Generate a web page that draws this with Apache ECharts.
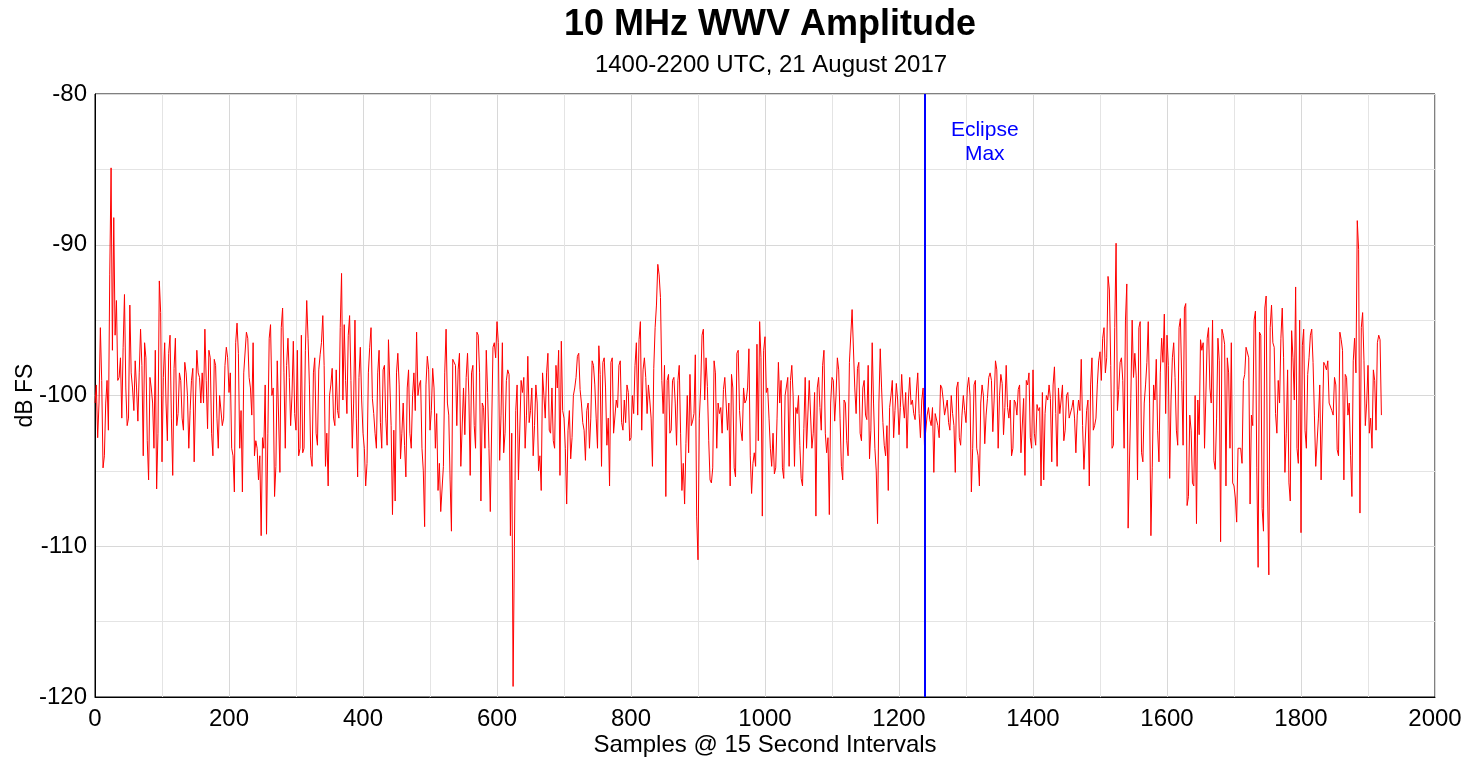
<!DOCTYPE html>
<html>
<head>
<meta charset="utf-8">
<script src="https://cdn.jsdelivr.net/npm/echarts@6/dist/echarts.min.js"></script>
<style>
html,body{margin:0;padding:0;background:#fff;}
#chart{width:1470px;height:759px;}
</style>
</head>
<body>
<div id="chart"></div>
<script>
// Samples between consecutive values of an amp array; mid arrays sit halfway between
const STEP = 4;
const MID_OFFSET = 2;
// Amplitude (dB FS), in 160-sample segments
const amp0000 = [-100.5,-102.8,-95.5,-104.8,-100.5,-102.3,-84.9,-88.2,-93.7,-98.8,-101.5,-93.3,-102,-94,-99.5,-97.7,-101.7,-95.6,-104,-97.5,-105.6,-99.5,-103.5,-106.2,-92.4,-104.4,-96.5,-103,-96,-105.3,-96.2,-101.2,-99,-102.3,-98.5,-103.5,-99,-104.4,-97,-98.8];
const mid0000 = [-99.3,-100.5,-99,-104,-99,-92,-97,-96,-99,-97.5,-96.8,-99.5,-101.5,-98.5,-101,-99.5,-98.5,-98,-96.5,-103,-98.8,-100.5,-97,-102.5,-94.5,-98.8,-100.5,-97.2,-101.5,-98.2,-102,-98.5,-101.5,-97.8,-100,-101,-98.2,-100.3,-98.5,-100.5];
const amp0160 = [-98.5,-95.6,-102.2,-97.5,-104,-98,-103.5,-100,-101.5,-96.8,-99.8,-103.5,-106.4,-95.2,-103.5,-106.4,-98.5,-96.2,-99.5,-96.5,-103,-105.6,-109.3,-103.5,-109.2,-96.2,-100,-106.7,-97.7,-105.1,-94.2,-103.5,-96.2,-102,-96.4,-102.3,-104,-96,-103.5,-93.7];
const mid0160 = [-100.5,-99,-97,-102.5,-97.6,-101.5,-100,-102,-98,-97.5,-98.5,-104,-96.5,-97.2,-101,-98.5,-95.8,-98.8,-101.3,-104,-103.5,-104,-102.8,-99.3,-102.5,-95.3,-99.5,-104.7,-97.7,-95.5,-98.5,-98,-98.8,-100,-101.2,-97,-103.5,-103.8,-97,-96.2];
const amp0320 = [-99.3,-104.7,-97.5,-103.3,-97.3,-94.7,-104.7,-106,-99.3,-101.5,-98.3,-101.5,-91.9,-95.3,-101.2,-94.7,-103.5,-95,-105.4,-96.8,-102.5,-106,-98.5,-95.5,-101.2,-103.5,-97,-103.5,-98,-103.3,-96.2,-107.9,-107,-97.2,-104.2,-100.5,-105.4,-98.3,-103.5,-98.5];
const mid0320 = [-104,-98.5,-102.5,-98.3,-96.5,-98,-102.5,-100,-98.2,-102,-101,-95.5,-100.3,-99,-96,-99,-100.5,-101.5,-98.8,-100.3,-103.5,-104.5,-96.8,-100.2,-102.5,-98.5,-101.8,-98.3,-101.5,-96.3,-102,-102.3,-98.5,-99.3,-102.5,-103.3,-99.5,-102.5,-100,-101];
const amp0480 = [-95.8,-99.3,-103.5,-108.7,-97.4,-102.3,-98.2,-103.5,-106.3,-107.7,-104.7,-95.6,-101.3,-109,-97.5,-102,-97.2,-104.7,-102.6,-97.2,-105.3,-98,-103.5,-96,-107,-100.8,-97,-103.5,-107.7,-96.5,-95.1,-104.3,-96.5,-102.5,-98.3,-109.3,-119.3,-101,-105.6,-99];
const mid0480 = [-100,-99,-105,-99.3,-98.3,-101,-99.5,-101.2,-104.5,-107.7,-98.5,-100.5,-105.6,-97.6,-98,-98.3,-104.7,-99.5,-98.8,-100,-98.5,-102,-95.8,-98.5,-100.5,-103.5,-99.8,-107.7,-96.8,-97.5,-96.5,-101.3,-103.8,-99,-98.6,-102.5,-110,-99.3,-105.6,-99.8];
const amp0640 = [-98.8,-101.3,-101.8,-99.5,-102,-100.5,-104,-98.5,-101.5,-97.2,-102.5,-103,-98,-97,-96.4,-101.5,-107.2,-101,-102.8,-99.5,-97.4,-99.6,-101.8,-104.3,-100.5,-101.5,-98,-101.5,-96.7,-104.7,-97.5,-103.3,-106,-97.5,-102.5,-100.8,-97.7,-102.3,-101.8,-99.8];
const mid0640 = [-103.5,-97.4,-101,-104,-99.3,-105,-106.3,-100,-98.5,-102.3,-99.5,-103.5,-99.5,-105.3,-101,-103.5,-102.3,-104.2,-100,-98.8,-97.2,-100.5,-102.3,-101,-103.5,-97.7,-99.3,-103.5,-98.6,-97.8,-99.5,-101.5,-97.8,-102.5,-100.3,-98,-101.8,-100.3,-99.3,-103];
const amp0800 = [-102.8,-101.2,-96.5,-96.3,-102.3,-97.5,-101.2,-100.3,-104.7,-95.5,-91.3,-93.5,-101.2,-106.7,-98.6,-102.3,-98.8,-103.3,-98,-106.3,-107.2,-100,-98.6,-101.7,-97.3,-110.9,-99.5,-95.6,-97.5,-103,-105.8,-97.7,-103.5,-101.2,-102.5,-98.8,-102.3,-106,-99.5,-105.4];
const mid0800 = [-100,-98,-101.3,-95.1,-98.3,-98.8,-99.3,-101.5,-98.2,-94,-92,-99,-98,-99,-102.5,-99,-100.5,-99,-102.5,-104.5,-103.2,-103.8,-102,-101.2,-108,-101.5,-96,-100.3,-99.4,-105.6,-104.8,-98.5,-100.5,-100.8,-99.6,-100.5,-100.5,-98.6,-104.8,-97.2];
const amp0960 = [-97,-102.3,-99.5,-100.3,-96.9,-106.5,-103.8,-96.6,-95.1,-108,-96.1,-99.5,-103.5,-102.5,-104.8,-97.8,-99,-105.5,-100,-104.7,-98,-104.7,-101.2,-103.3,-106,-98.8,-103.5,-99,-102.5,-108,-98.8,-102.3,-97,-103.8,-107.9,-98.8,-101.7,-97.5,-101.5,-105.6];
const mid0960 = [-101,-103,-100.5,-99.5,-104,-104.5,-104.7,-103,-97.5,-97,-99.8,-101.5,-104.7,-105.2,-101.5,-100.5,-104.8,-100,-98.8,-99,-100,-100.8,-100,-105.5,-102.2,-103.5,-99,-103.5,-99.8,-99.5,-100.8,-98,-102.5,-102.8,-100.5,-99,-100,-98.3,-104.7,-100.3];
const amp1120 = [-100.5,-104,-97.7,-94.2,-101.2,-97.8,-103,-99,-101.6,-104.2,-96.5,-103.5,-108.5,-96.9,-101.8,-104,-106.3,-100,-102.8,-99.2,-102.6,-98.6,-101.5,-103.5,-98.8,-100.3,-101.6,-98.5,-102.8,-99.5,-103.3,-100.8,-102,-105.1,-101.3,-102.8,-99.5,-101.3,-100.3,-102.3];
const mid1120 = [-103,-97.8,-94.3,-99.5,-98.2,-102.5,-99.5,-101.3,-98,-102.3,-100.5,-105,-100.5,-99.5,-103.3,-102,-100.8,-99,-101,-100.3,-100.8,-100.5,-99.8,-100.3,-100.6,-101.2,-99.7,-101.2,-100.3,-103.3,-101.3,-101.6,-100.8,-101.2,-102,-99.3,-100.3,-101.3,-101.8,-100];
const amp1280 = [-101.2,-105.1,-99.1,-103.3,-100,-101.8,-98.8,-106.4,-99.3,-103.5,-106,-99.3,-103.2,-100.2,-98.5,-102.4,-97.7,-103.5,-98.6,-102.6,-98,-101.5,-104,-100.3,-101.3,-99.3,-103.8,-105.3,-99.3,-102.8,-98.3,-103.3,-101,-106,-105.6,-100,-99.3,-104.4,-98.1,-104.7];
const mid1280 = [-102,-99.5,-102.8,-101.3,-101,-99.5,-100,-103.5,-99,-104,-100.5,-100,-101.3,-98.8,-99,-100.3,-98.3,-100,-99.2,-100.8,-100.8,-100.3,-103.5,-100.5,-99.6,-103.8,-100.2,-99,-98.5,-103.5,-102.5,-100.6,-100.8,-99.8,-101.2,-100.3,-100.2,-99.3,-101.2,-99.5];
const amp1440 = [-101.2,-99.3,-102.3,-99.8,-101.5,-100.3,-103.8,-100.3,-97.6,-104.9,-101,-106,-97.5,-102,-99.3,-97.1,-96.2,-98.5,-92.1,-98,-103.3,-89.9,-99.6,-97.5,-103.5,-92.6,-108.8,-95,-97.2,-105.6,-95.1,-104.4,-99.3,-95.1,-109.3,-99.3,-97.6,-104.4,-96.2,-94.6];
const mid1440 = [-100.3,-103,-100,-101.5,-100.8,-101.5,-101.3,-101,-102,-104.9,-100.3,-99.3,-102.3,-101.5,-97.7,-99,-95.5,-97.5,-93,-103.5,-95.5,-101,-97.8,-99,-95,-108.8,-100.2,-98.8,-98.7,-95.5,-103.8,-100.5,-97.8,-100.5,-104.8,-100.3,-102.3,-98.5,-97.8,-101.2];
const amp1600 = [-96,-105.5,-97.5,-98.8,-103.3,-94.9,-103.3,-93.9,-106.7,-102.3,-106,-108.5,-102.6,-97,-103.5,-96.2,-99.5,-95,-104.9,-96.2,-109.7,-96,-106,-98.5,-96.5,-106,-108.4,-103.5,-104.5,-98.6,-96.7,-107.2,-102,-94.4,-111.4,-96,-109,-93.4,-111.9,-94];
const mid1600 = [-98,-100.3,-96.5,-102.3,-95.5,-99,-94.2,-107.3,-101.3,-105.8,-100,-100.3,-96.3,-96.5,-100,-95.5,-100.5,-104.3,-101.5,-97.7,-95.6,-96.6,-97.5,-103.5,-105.8,-106.8,-103.5,-103.5,-99,-96.8,-97.5,-101.3,-95,-104.8,-95.8,-107.5,-94.2,-106,-95.5,-96.5];
const amp1760 = [-96.8,-102.5,-100.5,-94.2,-105.1,-98.3,-107,-97.5,-92.8,-104.5,-109.1,-95.6,-103.5,-97.5,-95.6,-101.3,-104.7,-99.3,-105.6,-98,-97.7,-100.5,-101.3,-99.3,-104,-96.3,-105.6,-98.8,-100.5,-106.7,-96.2,-88.4,-107.8,-94.5,-102,-98,-101.5,-98.3,-102.3,-96];
const mid1760 = [-101.2,-99,-96.2,-97.5,-102.5,-105.8,-95.7,-100.3,-103.5,-95,-96.7,-102.3,-98.6,-96,-97.8,-104.7,-101.5,-105.6,-97.8,-98.3,-100.5,-101,-98.8,-103.6,-95.8,-97,-98.6,-101.3,-104,-97.7,-98.5,-90.3,-95.5,-97.7,-100.5,-102.5,-103.5,-99,-96.5,-96.3];
const ampTail = [-101.3];

const eclipseSample = 1239;
const eclipseLabel = ['Eclipse', 'Max'];
const eclipseLabelAt = [1328, -83.2];

const xTicks = {min: 0, max: 2000, interval: 200};
const yTicks = {min: -120, max: -80, interval: 10};

const amp = [].concat(amp0000, amp0160, amp0320, amp0480, amp0640, amp0800,
                      amp0960, amp1120, amp1280, amp1440, amp1600, amp1760);
const mid = [].concat(mid0000, mid0160, mid0320, mid0480, mid0640, mid0800,
                      mid0960, mid1120, mid1280, mid1440, mid1600, mid1760);
const seriesData = [];
amp.forEach((v, i) => {
  seriesData.push([i * STEP, v]);
  seriesData.push([i * STEP + MID_OFFSET, mid[i]]);
});
ampTail.forEach((v, k) => seriesData.push([(amp.length + k) * STEP, v]));

const FONT = 'Liberation Sans, Arial, sans-serif';
const chart = echarts.init(document.getElementById('chart'), null, {renderer: 'canvas'});
chart.setOption({
  animation: false,
  backgroundColor: '#fff',
  textStyle: {fontFamily: FONT},
  title: [
    {text: '10 MHz WWV Amplitude', left: 765, textAlign: 'center', top: 2,
     textStyle: {fontSize: 36, fontWeight: 'bold', color: '#000', fontFamily: FONT}},
    {text: '1400-2200 UTC, 21 August 2017', left: 766, textAlign: 'center', top: 48,
     textStyle: {fontSize: 24, fontWeight: 'normal', color: '#000', fontFamily: FONT}}
  ],
  grid: {left: 95, right: 35, top: 94, bottom: 62, show: true, borderColor: '#000', borderWidth: 1,
         containLabel: false, outerBoundsMode: 'none'},
  xAxis: {
    type: 'value', min: xTicks.min, max: xTicks.max, interval: xTicks.interval,
    name: 'Samples @ 15 Second Intervals', nameLocation: 'middle', nameGap: 36,
    nameMoveOverlap: false,
    nameTextStyle: {fontSize: 24, color: '#000', fontFamily: FONT},
    axisLine: {show: true, lineStyle: {color: '#000', width: 1}},
    axisTick: {show: false},
    axisLabel: {fontSize: 24, color: '#000', margin: 10, fontFamily: FONT, formatter: v => String(v)},
    splitLine: {show: true, lineStyle: {color: '#d8d8d8', width: 1}},
    minorTick: {show: false, splitNumber: 2},
    minorSplitLine: {show: true, lineStyle: {color: '#e4e4e4', width: 1}}
  },
  yAxis: {
    type: 'value', min: yTicks.min, max: yTicks.max, interval: yTicks.interval,
    name: 'dB FS', nameLocation: 'middle', nameGap: 58, nameRotate: 90,
    nameMoveOverlap: false,
    nameTextStyle: {fontSize: 23, color: '#000', fontFamily: FONT},
    axisLine: {show: true, lineStyle: {color: '#000', width: 1}},
    axisTick: {show: false},
    axisLabel: {fontSize: 24, color: '#000', margin: 8, fontFamily: FONT, formatter: v => String(v)},
    splitLine: {show: true, lineStyle: {color: '#d8d8d8', width: 1}},
    minorTick: {show: false, splitNumber: 2},
    minorSplitLine: {show: true, lineStyle: {color: '#e4e4e4', width: 1}}
  },
  series: [
    {
      type: 'line', data: seriesData, showSymbol: false, symbol: 'none',
      lineStyle: {color: '#ff0000', width: 1}, itemStyle: {color: '#ff0000'},
      z: 3,
      markLine: {
        silent: true, symbol: ['none', 'none'], animation: false,
        lineStyle: {color: '#0000ff', width: 2, type: 'solid', opacity: 1},
        label: {show: false},
        data: [{xAxis: eclipseSample}]
      }
    },
    {
      type: 'scatter', data: [eclipseLabelAt], symbolSize: 0, silent: true,
      itemStyle: {opacity: 1, color: '#0000ff'},
      label: {show: true, position: 'inside', formatter: eclipseLabel.join('\n'),
              color: '#0000ff', opacity: 1, fontSize: 21, lineHeight: 24, fontFamily: FONT, align: 'center'}
    }
  ]
});
</script>
</body>
</html>
